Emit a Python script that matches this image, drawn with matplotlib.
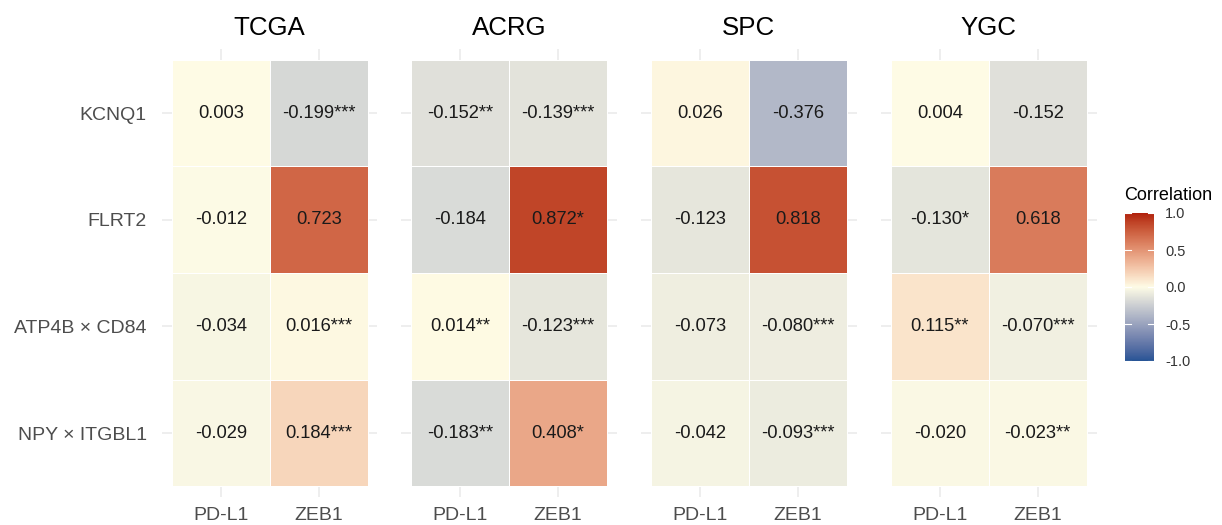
import numpy as np
import matplotlib
matplotlib.use("Agg")
import matplotlib.pyplot as plt
import matplotlib.colors as mcolors

plt.rcParams["font.family"] = ["Liberation Sans", "DejaVu Sans"]

# correlation of each feature with PD-L1 / ZEB1 in every cohort
cohorts = ["TCGA", "ACRG", "SPC", "YGC"]
targets = ["PD-L1", "ZEB1"]
features = ["KCNQ1", "FLRT2", "ATP4B × CD84", "NPY × ITGBL1"]

tcga_r = [[0.003, -0.199], [-0.012, 0.723], [-0.034, 0.016], [-0.029, 0.184]]
tcga_sig = [["", "***"], ["", ""], ["", "***"], ["", "***"]]
acrg_r = [[-0.152, -0.139], [-0.184, 0.872], [0.014, -0.123], [-0.183, 0.408]]
acrg_sig = [["**", "***"], ["", "*"], ["**", "***"], ["**", "*"]]
spc_r = [[0.026, -0.376], [-0.123, 0.818], [-0.073, -0.080], [-0.042, -0.093]]
spc_sig = [["", ""], ["", ""], ["", "***"], ["", "***"]]
ygc_r = [[0.004, -0.152], [-0.130, 0.618], [0.115, -0.070], [-0.020, -0.023]]
ygc_sig = [["", ""], ["*", ""], ["**", "***"], ["", "**"]]

panel_r = [tcga_r, acrg_r, spc_r, ygc_r]
panel_sig = [tcga_sig, acrg_sig, spc_sig, ygc_sig]


# diverging gradient interpolated in CIELAB (low / mid / high)
def _to_lab(c):
    rgb = np.array(mcolors.to_rgb(c))
    lin = np.where(rgb <= 0.04045, rgb / 12.92, ((rgb + 0.055) / 1.055) ** 2.4)
    m = np.array([[0.4124, 0.3576, 0.1805],
                  [0.2126, 0.7152, 0.0722],
                  [0.0193, 0.1192, 0.9505]])
    xyz = m @ lin / np.array([0.95047, 1.0, 1.08883])
    f = np.where(xyz > 0.008856, np.cbrt(xyz), 7.787 * xyz + 16 / 116)
    return np.array([116 * f[1] - 16, 500 * (f[0] - f[1]), 200 * (f[1] - f[2])])


def _from_lab(lab):
    fy = (lab[0] + 16) / 116
    f = np.array([fy + lab[1] / 500, fy, fy - lab[2] / 200])
    xyz = np.where(f ** 3 > 0.008856, f ** 3, (f - 16 / 116) / 7.787)
    xyz = xyz * np.array([0.95047, 1.0, 1.08883])
    minv = np.array([[3.2406, -1.5372, -0.4986],
                     [-0.9689, 1.8758, 0.0415],
                     [0.0557, -0.2040, 1.0570]])
    lin = np.clip(minv @ xyz, 0, 1)
    rgb = np.where(lin <= 0.0031308, 12.92 * lin, 1.055 * lin ** (1 / 2.4) - 0.055)
    return np.clip(rgb, 0, 1)


low, mid, high = _to_lab("#285596"), _to_lab("#FEFCE6"), _to_lab("#B2220E")
samples = []
for t in np.linspace(-1, 1, 256):
    lab = mid + (low - mid) * (-t) if t < 0 else mid + (high - mid) * t
    samples.append(_from_lab(lab))
cmap = mcolors.ListedColormap(samples)
norm = mcolors.Normalize(-1, 1)

fig = plt.figure(figsize=(12.22, 5.25), dpi=100)
W, H = 1222, 525
grid_col = "#EBEBEB"
lefts = [162, 401, 641, 881]
pw, top, bottom = 215.5, 49, 497

for k, (name, r, sig) in enumerate(zip(cohorts, panel_r, panel_sig)):
    ax = fig.add_axes([lefts[k] / W, (H - bottom) / H, pw / W, (bottom - top) / H])
    vals = np.array(r)
    for i in range(len(features)):
        ax.axhline(i, color=grid_col, lw=1.2, zorder=0)
    for j in range(len(targets)):
        ax.axvline(j, color=grid_col, lw=1.2, zorder=0)
    ax.pcolormesh(np.arange(len(targets) + 1) - 0.5, np.arange(len(features) + 1) - 0.5,
                  vals, cmap=cmap, norm=norm, edgecolors="white", linewidth=0.4, zorder=1)
    for i in range(len(features)):
        for j in range(len(targets)):
            ax.text(j, i, f"{vals[i, j]:.3f}{sig[i][j]}", ha="center", va="center",
                    fontsize=13.2, color="#1A1A1A", zorder=2)
    ax.set_xlim(-0.6, len(targets) - 0.4)
    ax.set_ylim(len(features) - 0.4, -0.6)
    ax.set_xticks(range(len(targets)))
    ax.set_xticklabels(targets, fontsize=14, color="#4D4D4D")
    ax.set_yticks(range(len(features)))
    if k == 0:
        ax.set_yticklabels(features, fontsize=14, color="#4D4D4D")
    else:
        ax.set_yticklabels([])
    ax.tick_params(length=0, pad=7)
    ax.tick_params(axis="y", pad=11)
    for s in ax.spines.values():
        s.set_visible(False)
    ax.set_title(name, fontsize=18.6, pad=10, color="#000000")

# colour bar legend
cax = fig.add_axes([1125 / W, (H - 361) / H, 29 / W, 148 / H])
grad = np.linspace(1, -1, 300).reshape(-1, 1)
cax.imshow(grad, cmap=cmap, norm=norm, aspect="auto", extent=[0, 1, -1, 1])
cb_ticks = [-1.0, -0.5, 0.0, 0.5, 1.0]
for t in cb_ticks:
    cax.plot([0, 0.2], [t, t], color="white", lw=0.8)
    cax.plot([0.8, 1], [t, t], color="white", lw=0.8)
cax.set_xlim(0, 1)
cax.set_ylim(-1, 1)
cax.set_xticks([])
cax.yaxis.tick_right()
cax.set_yticks(cb_ticks)
cax.set_yticklabels([f"{t:.1f}" for t in cb_ticks], fontsize=10.5, color="#333333")
cax.tick_params(length=0, pad=8)
for s in cax.spines.values():
    s.set_visible(False)
fig.text(1124 / W, (H - 196) / H, "Correlation", fontsize=13, ha="left", va="center")

fig.savefig("out.png", dpi=100, facecolor="white")
